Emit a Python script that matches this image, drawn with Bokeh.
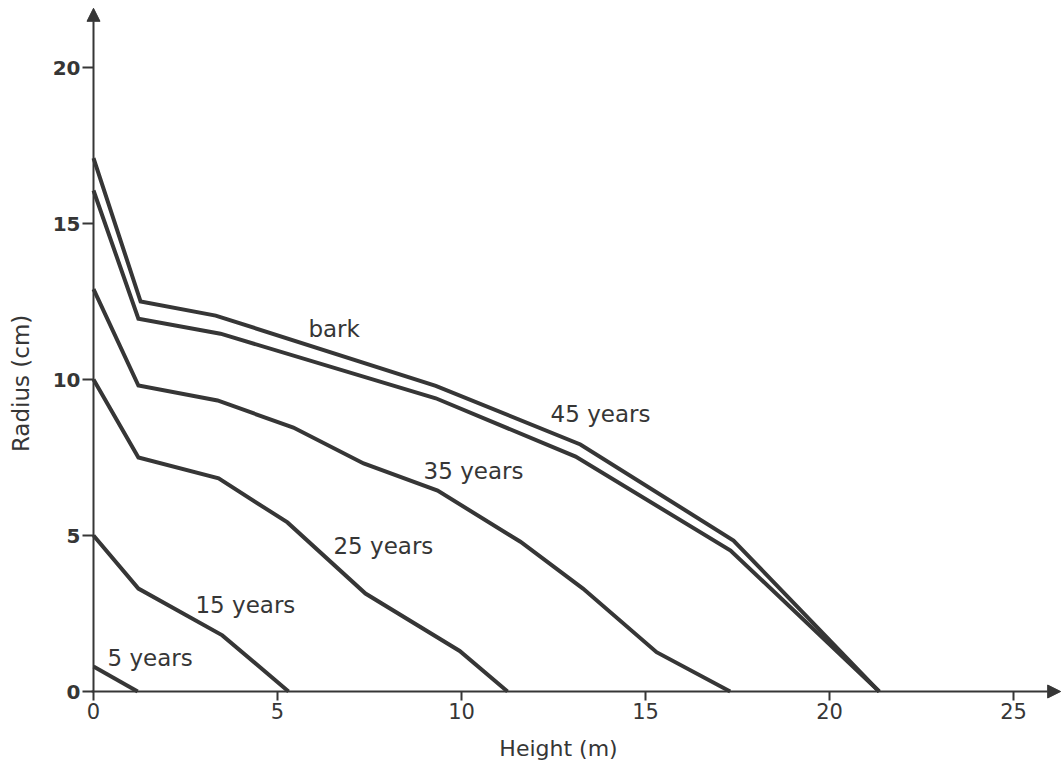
from bokeh.plotting import figure
from bokeh.models import Range1d, FixedTicker, Arrow, NormalHead
from bokeh.core.properties import value
from bokeh.embed import file_html
from bokeh.resources import INLINE

# ---- data (height in m, radius in cm) ----
bark_h = [0, 1.28, 3.32, 9.3, 13.23, 17.39, 21.35]
bark_r = [17.1, 12.5, 12.05, 9.8, 7.92, 4.84, 0]
y45_h = [0, 1.22, 3.45, 9.3, 13.1, 17.31, 21.35]
y45_r = [16.06, 11.95, 11.47, 9.4, 7.53, 4.52, 0]
y35_h = [0, 1.22, 3.37, 5.43, 7.34, 9.35, 11.6, 13.3, 15.3, 17.3]
y35_r = [12.9, 9.81, 9.33, 8.46, 7.31, 6.44, 4.8, 3.3, 1.26, 0]
y25_h = [0, 1.22, 3.4, 5.27, 7.39, 9.95, 11.25]
y25_r = [10.0, 7.5, 6.83, 5.42, 3.14, 1.3, 0]
y15_h = [0, 1.22, 3.5, 5.3]
y15_r = [5.0, 3.3, 1.8, 0]
y5_h = [0, 1.2]
y5_r = [0.8, 0]

label_text = ["bark", "45 years", "35 years", "25 years", "15 years", "5 years"]
label_x = [5.84, 12.42, 8.97, 6.52, 2.77, 0.38]
label_y = [11.63, 8.91, 7.08, 4.68, 2.76, 1.09]

x_ticks = [0, 5, 10, 15, 20, 25]
y_ticks = [0, 5, 10, 15, 20]

INK = "#363636"
FONT = "DejaVu Sans"
NBSP = "\u00a0"

# frame starts slightly before the origin so that the axis lines (drawn at
# x=0 / y=0) and their arrow heads are not clipped
p = figure(width=1062, height=767, output_backend="svg", toolbar_location=None,
           x_range=Range1d(-0.299, 26.33), y_range=Range1d(-0.288, 22.15),
           min_border_left=82, min_border_right=0, min_border_top=0,
           min_border_bottom=67)
p.background_fill_color = "white"
p.border_fill_color = "white"
p.outline_line_color = None
p.grid.visible = False

for xs, ys in [(bark_h, bark_r), (y45_h, y45_r), (y35_h, y35_r),
               (y25_h, y25_r), (y15_h, y15_r), (y5_h, y5_r)]:
    p.line(xs, ys, line_color=INK, line_width=4, line_join="miter")

p.text(x=label_x, y=label_y, text=label_text, text_font=value(FONT),
       text_font_size="23px", text_color=INK, text_align="left",
       text_baseline="middle")

# axes: ticks and labels from Bokeh axes, axis lines drawn as arrows at 0
p.xaxis.ticker = FixedTicker(ticks=x_ticks)
p.yaxis.ticker = FixedTicker(ticks=y_ticks)
for ax in (p.xaxis, p.yaxis):
    ax.axis_line_color = None
    ax.major_tick_line_color = INK
    ax.major_tick_line_width = 2
    ax.major_tick_out = 0
    ax.minor_tick_line_color = None
    ax.major_label_text_font = FONT
    ax.major_label_text_color = INK
    ax.axis_label_text_font = FONT
    ax.axis_label_text_color = INK
    ax.axis_label_text_font_style = "normal"
p.xaxis.major_tick_in = 9
p.yaxis.major_tick_in = 11

p.xaxis.axis_label = "Height (m)" + NBSP * 4
p.yaxis.axis_label = "Radius (cm)" + NBSP * 9
p.xaxis.axis_label_text_font_size = "22px"
p.yaxis.axis_label_text_font_size = "23px"
p.xaxis.major_label_text_font_size = "21px"
p.yaxis.major_label_text_font_size = "20px"
p.yaxis.major_label_text_font_style = "bold"
p.xaxis.major_label_standoff = 2
p.yaxis.major_label_standoff = 2
p.xaxis.axis_label_standoff = 14
p.yaxis.axis_label_standoff = 16

p.add_layout(Arrow(end=NormalHead(size=13, fill_color=INK, line_color=INK),
                   x_start=0, y_start=0, x_end=0, y_end=21.9,
                   line_color=INK, line_width=2))
p.add_layout(Arrow(end=NormalHead(size=13, fill_color=INK, line_color=INK),
                   x_start=-0.05, y_start=0, x_end=26.28, y_end=0,
                   line_color=INK, line_width=2))

open("out.html", "w").write(file_html(p, INLINE))
